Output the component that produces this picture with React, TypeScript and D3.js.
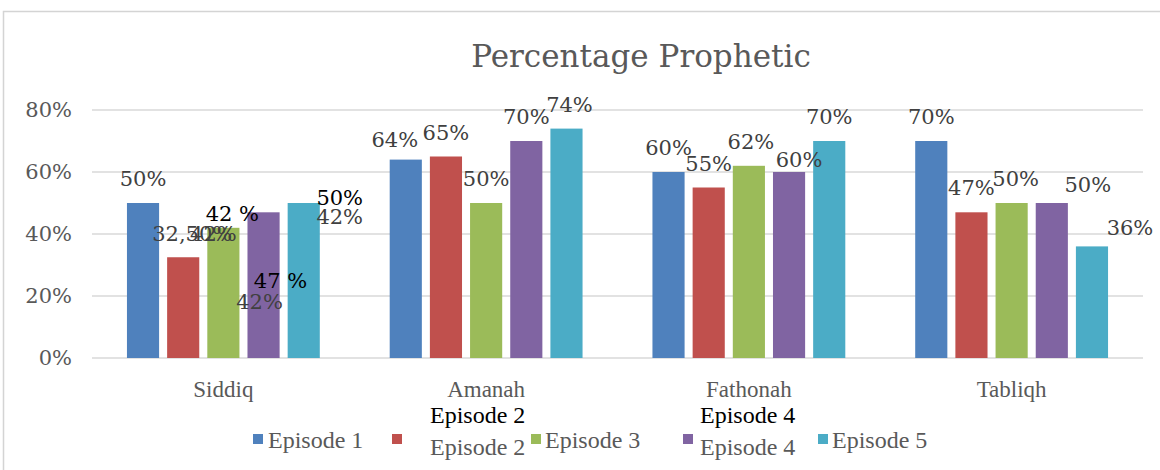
// grouped bar chart "Percentage Prophetic" drawn with d3 into an svg ref
import React, { useRef, useEffect } from 'react';
import * as d3 from 'd3';

// the data
const categories = ['Siddiq', 'Amanah', 'Fathonah', 'Tabliqh'];
const seriesNames = ['Episode 1', 'Episode 2', 'Episode 3', 'Episode 4', 'Episode 5'];
const episode1 = [50, 64, 60, 70];
const episode2 = [32.5, 65, 55, 47];
const episode3 = [42, 50, 62, 50];
const episode4 = [47, 70, 60, 50];
const episode5 = [50, 74, 70, 36];
// data labels as they show up in the picture (some are wrong, kept as is)
const episode1Labels = ['50%', '64%', '60%', '70%'];
const episode2Labels = ['32,50%', '65%', '55%', '47%'];
const episode3Labels = ['42%', '50%', '62%', '50%'];
const episode4Labels = ['42%', '70%', '60%', '50%'];
const episode5Labels = ['42%', '74%', '70%', '36%'];
// black text boxes somebody pasted over the Siddiq group
const overlayTexts = ['42 %', '47 %', '50%'];
const overlaySeries = [2, 3, 4];
const yTicks = [0, 20, 40, 60, 80];

const colors = ['#4f81bd', '#c0504d', '#9bbb59', '#8064a2', '#4bacc6'];

// label nudges [dx, dy] per series / category (excel "best fit" mess)
const labelNudge = [
  [[0, 0], [-11, 4], [0, 0], [0, 0]],
  [[9, 1], [0, 0], [0, 0], [0, 0]],
  [[-10, 30], [0, 0], [2, 0], [4, 0]],
  [[-4, 114], [0, 0], [10, 12], [36, 6]],
  [[36, 38], [3, 0], [0, 0], [38, 6]],
];
const overlayNudge = [[9, 10], [17, 93], [36, 19]];
const legendX = [253, 392, 531, 683, 818];
const legendTextGap = [15, 38, 14, 17, 14];

function App() {
  const ref = useRef(null);
  const width = 1160;
  const height = 470;
  const plot = { left: 92, right: 1143, top: 110, bottom: 358 };

  useEffect(() => {
    const svg = d3.select(ref.current);
    svg.selectAll('*').remove();

    const values = [episode1, episode2, episode3, episode4, episode5];
    const labels = [episode1Labels, episode2Labels, episode3Labels, episode4Labels, episode5Labels];

    const x0 = d3.scaleBand().domain(categories).range([plot.left, plot.right]).padding(0);
    const x1 = d3.scaleBand()
      .domain(d3.range(seriesNames.length))
      .range([0, x0.bandwidth()])
      .paddingInner(0.2)
      .paddingOuter(0.87);
    const y = d3.scaleLinear().domain([0, 80]).range([plot.bottom, plot.top]);

    // chart frame (only top + left edges visible in the shot)
    svg.append('rect')
      .attr('x', 3.5).attr('y', 11.5)
      .attr('width', width + 20).attr('height', height + 20)
      .style('fill', 'white')
      .style('stroke', '#d4d4d4')
      .style('stroke-width', 1.5);

    // gridlines
    svg.append('g')
      .selectAll('line')
      .data(yTicks)
      .enter()
      .append('line')
      .attr('x1', plot.left).attr('x2', plot.right)
      .attr('y1', d => y(d)).attr('y2', d => y(d))
      .style('stroke', '#d9d9d9')
      .style('stroke-width', 1.3);

    // y axis labels
    svg.append('g')
      .selectAll('text')
      .data(yTicks)
      .enter()
      .append('text')
      .attr('x', 72)
      .attr('y', d => y(d) + 7)
      .attr('text-anchor', 'end')
      .style('font-family', 'DejaVu Serif')
      .style('font-size', '21px')
      .style('fill', '#595959')
      .text(d => d + '%');

    // title
    svg.append('text')
      .attr('x', 641).attr('y', 67)
      .attr('text-anchor', 'middle')
      .style('font-family', 'DejaVu Serif')
      .style('font-size', '31px')
      .style('fill', '#595959')
      .text('Percentage Prophetic');

    // bars
    values.forEach((series, s) => {
      svg.append('g')
        .selectAll('rect')
        .data(series)
        .enter()
        .append('rect')
        .attr('x', (d, i) => x0(categories[i]) + x1(s))
        .attr('y', d => y(d))
        .attr('width', x1.bandwidth())
        .attr('height', d => y(0) - y(d))
        .style('fill', colors[s]);
    });

    // data labels
    values.forEach((series, s) => {
      svg.append('g')
        .selectAll('text')
        .data(series)
        .enter()
        .append('text')
        .attr('x', (d, i) => x0(categories[i]) + x1(s) + x1.bandwidth() / 2 + labelNudge[s][i][0])
        .attr('y', (d, i) => y(d) - 17 + labelNudge[s][i][1])
        .attr('text-anchor', 'middle')
        .style('font-family', 'DejaVu Serif')
        .style('font-size', '21px')
        .style('fill', '#404040')
        .text((d, i) => labels[s][i]);
    });

    // the pasted black texts
    overlayTexts.forEach((t, k) => {
      const s = overlaySeries[k];
      const v = values[s][0];
      svg.append('text')
        .attr('x', x0(categories[0]) + x1(s) + x1.bandwidth() / 2 + overlayNudge[k][0])
        .attr('y', y(v) - 17 + overlayNudge[k][1])
        .attr('text-anchor', 'middle')
        .style('font-family', 'DejaVu Serif')
        .style('font-size', '21px')
        .style('fill', '#000')
        .text(t);
    });

    // category labels
    svg.append('g')
      .selectAll('text')
      .data(categories)
      .enter()
      .append('text')
      .attr('x', d => x0(d) + x0.bandwidth() / 2)
      .attr('y', 397)
      .attr('text-anchor', 'middle')
      .style('font-family', 'Liberation Serif')
      .style('font-size', '23px')
      .style('fill', '#595959')
      .text(d => d);

    // legend
    const legend = svg.append('g');
    seriesNames.forEach((name, s) => {
      const dropped = s === 1 || s === 3; // these two sit lower, with black copies above
      legend.append('rect')
        .attr('x', legendX[s]).attr('y', 434)
        .attr('width', 10).attr('height', 10)
        .style('fill', colors[s]);
      legend.append('text')
        .attr('x', legendX[s] + legendTextGap[s])
        .attr('y', dropped ? 455 : 448)
        .style('font-family', 'Liberation Serif')
        .style('font-size', '24px')
        .style('fill', '#595959')
        .text(name);
      if (dropped) {
        legend.append('text')
          .attr('x', legendX[s] + legendTextGap[s])
          .attr('y', 423)
          .style('font-family', 'Liberation Serif')
          .style('font-size', '24px')
          .style('fill', '#000')
          .text(name);
      }
    });
  }, []);

  return (
    <svg
      ref={ref}
      width={width}
      height={height}
      style={{ position: 'absolute', left: 0, top: 0, display: 'block' }}
    />
  );
}

export default App;
